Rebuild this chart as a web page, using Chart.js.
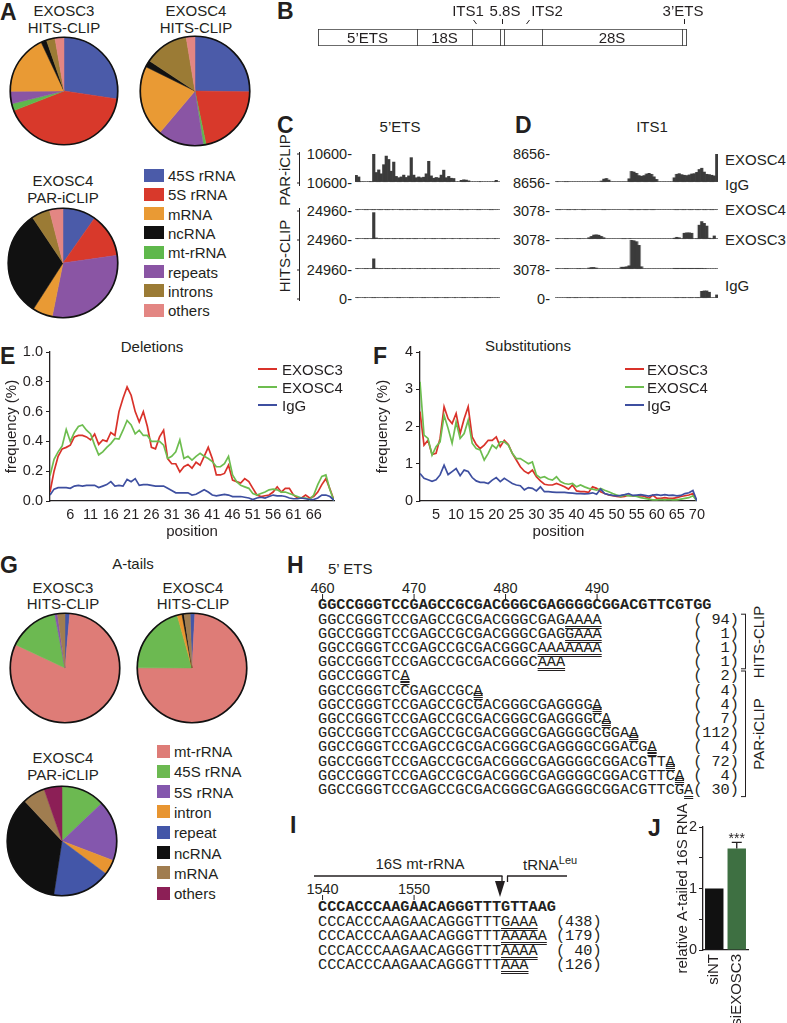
<!DOCTYPE html>
<html><head><meta charset="utf-8">
<script src="https://cdn.jsdelivr.net/npm/chart.js"></script>
<style>
html,body{margin:0;padding:0;background:#fff}
body{position:relative;width:787px;height:1023px;overflow:hidden;font-family:"Liberation Sans",Arial,Helvetica,sans-serif;color:#231f20}
.t{position:absolute;white-space:nowrap;line-height:1}
canvas{position:absolute}
.sq{position:absolute}
.mono{position:absolute;white-space:pre;font-family:"Liberation Mono","Courier New",monospace;font-size:15.25px;line-height:15.25px}
.u{text-decoration:underline double;text-decoration-thickness:1px;text-underline-offset:2px}
.o{text-decoration:overline double;text-decoration-thickness:1px}
</style></head><body>
<script>
// ---------------- DATA ----------------
// Panel A: read class shares (%)
const aCategories=['45S rRNA','5S rRNA','mRNA','ncRNA','mt-rRNA','repeats','introns','others'];
const aColors=['#4b5ba9','#d8392b','#e99a34','#111111','#5fb84c','#8a55a4','#9b7b35','#e38683'];
const aExosc3Hits=[27.4,41.7,18.1,1.7,2.1,3.75,2.6,2.7];
const aExosc4Hits=[25.2,21.5,21.1,2.0,0.8,13.6,13.1,2.6];
const aExosc4Par=[9.75,13.0,5.9,31.5,0,30.4,5.4,4.0];
const aSliceOrder=[0,1,4,5,2,3,6,7];

// Panel B: pre-rRNA segments (relative lengths)
const bSegments=['5\u2019ETS','18S','ITS1','5.8S','ITS2','28S','3\u2019ETS'];
const bLengths=[99,55,28,4,38,140,5];

// Panel C (5'ETS) coverage tracks, binned
const cTrackNames=['EXOSC4','IgG','EXOSC4','EXOSC3','IgG'];
const cTrackMax=[10600,10600,24960,24960,24960];
const cExosc4Par=[2400,1800,0,0,null,0,0,10600,3500,4500,3000,6500,9800,8500,4000,7500,2000,1500,1800,2500,1600,2200,9200,2500,1500,1800,1500,1700,3000,7800,2200,1300,1600,1400,2500,4400,1500,2000,1300,1200,null,null,500,700,600,300,null,null,null,0,0,null,null,null,null,0,500,null];
const cIgGPar=[0,0,null,0,0,0,0,0,0,0,0,0,0,0,0,0,null,0,0,0,0,0,0,0,0,0,null,0,0,0,0,0,0,0,0,0,0,0,0,null,null,0,0,0,0,0,null,null,0,0,0,null,null,0,0,0,0,null];
const cExosc4Hits=[0,0,null,0,0,0,0,23500,600,0,0,0,0,0,0,0,0,0,0,0,0,0,0,0,0,0,null,0,0,null,0,0,0,null,0,0,0,null,0,0,null,0,0,null,0,0,null,null,0,0,null,null,0,0,null,0,0,null];
const cExosc3Hits=[0,0,null,0,0,0,0,8500,300,0,0,0,0,0,0,0,0,null,0,0,0,0,0,null,0,0,0,0,0,null,0,0,0,0,null,0,0,0,0,0,null,null,0,0,0,null,null,null,0,0,null,null,null,0,0,null,0,null];
const cIgGHits=[0,0,null,0,0,null,0,0,0,0,null,0,0,0,0,null,0,0,0,0,null,0,0,0,0,null,0,0,0,0,null,0,0,0,null,0,0,0,null,0,0,null,0,0,0,null,null,0,0,0,null,null,0,0,0,null,0,null];
const cTicks=['10600-','10600-','24960-','24960-','24960-','0-'];

// Panel D (ITS1) coverage tracks, binned
const dTrackMax=[8656,8656,3078,3078,3078];
const dExosc4Par=[0,0,null,0,0,0,null,null,null,null,null,null,null,null,null,null,null,null,200,800,1000,500,null,null,null,null,null,null,null,900,3200,3000,2600,1900,1700,1900,2400,2600,2300,1500,700,null,null,null,null,null,null,1200,2300,2500,2200,2000,1900,2100,2400,2500,2900,3800,4200,3000,2300,2200,2000,1800,8656];
const dIgGPar=[0,0,0,null,0,0,0,0,0,null,0,0,0,0,null,null,null,null,0,0,0,0,null,null,null,null,null,null,null,0,0,0,0,0,0,0,0,0,0,0,0,null,null,null,null,null,null,0,0,0,0,0,0,0,0,0,0,0,0,0,0,0,0,0,0];
const dExosc4Hits=[0,0,null,0,0,0,0,null,0,0,0,0,null,100,250,400,430,380,250,100,null,null,null,null,null,null,0,0,0,0,0,null,null,null,null,null,null,null,null,null,null,null,null,null,null,null,null,50,150,100,0,600,650,650,600,0,0,1500,1900,1700,1400,50,0,300,null];
const dExosc3Hits=[0,0,null,0,0,0,0,null,0,0,0,0,null,60,120,120,60,null,null,null,null,null,null,null,null,null,150,150,200,300,3078,3000,2900,2500,200,null,null,null,null,null,null,null,null,null,null,null,null,30,30,30,30,30,30,30,30,30,30,30,30,0,0,null,null,0,null];
const dIgGHits=[null,null,null,null,0,0,0,0,0,0,0,null,null,0,0,0,0,0,null,null,null,null,null,null,null,null,0,0,0,0,0,0,0,0,0,null,null,null,null,null,null,null,null,null,null,null,null,0,0,0,0,0,0,0,0,0,0,0,700,750,750,600,null,null,300];
const dTicks=['8656-','8656-','3078-','3078-','3078-','0-'];

// Panel E: deletion frequency (%) by read position
const delTicks=[6,11,16,21,26,31,36,41,46,51,56,61,66];
const delExosc3=[0.06,0.20,0.30,0.35,0.36,0.375,0.43,0.44,0.44,0.43,0.41,0.45,0.38,0.41,0.40,0.46,0.44,0.60,0.69,0.765,0.71,0.60,0.53,0.60,0.50,0.36,0.35,0.43,0.475,0.285,0.25,0.25,0.195,0.23,0.245,0.22,0.26,0.24,0.30,0.36,0.285,0.175,0.175,0.185,0.24,0.14,0.13,0.12,0.15,0.13,0.085,0.04,0.03,0.035,0.04,0.06,0.095,0.06,0.085,0.085,0.04,0.02,0.02,0.04,0.02,0.03,0.06,0.11,0.15,0.08,0.005];
const delExosc4=[0.17,0.28,0.33,0.37,0.48,0.40,0.46,0.50,0.51,0.475,0.45,0.375,0.31,0.33,0.36,0.385,0.42,0.415,0.475,0.54,0.51,0.45,0.475,0.44,0.44,0.40,0.40,0.40,0.375,0.285,0.30,0.33,0.41,0.285,0.30,0.275,0.30,0.32,0.30,0.285,0.265,0.23,0.23,0.25,0.30,0.175,0.13,0.105,0.095,0.085,0.05,0.04,0.05,0.06,0.075,0.08,0.075,0.06,0.06,0.05,0.04,0.03,0.02,0.02,0.01,0.04,0.11,0.165,0.175,0.075,0];
const delIgG=[0.04,0.08,0.09,0.09,0.09,0.085,0.10,0.105,0.10,0.105,0.105,0.105,0.09,0.10,0.11,0.13,0.10,0.105,0.10,0.145,0.13,0.15,0.105,0.11,0.11,0.105,0.10,0.10,0.10,0.085,0.07,0.055,0.055,0.055,0.055,0.04,0.045,0.06,0.075,0.06,0.04,0.035,0.04,0.045,0.04,0.03,0.03,0.03,0.025,0.02,0.01,0.02,0.025,0.02,0.03,0.04,0.035,0.035,0.03,0.02,0.015,0.015,0.02,0.015,0.01,0.01,0.02,0.04,0.04,0.03,0.005];

// Panel F: substitution frequency (%) by read position
const subTicks=[5,10,15,20,25,30,35,40,45,50,55,60,65,70];
const subExosc3=[2.4,1.5,1.63,1.25,1.28,1.68,2.53,2.21,2.08,2.35,1.81,2.21,2.53,1.72,1.52,1.41,1.5,1.63,1.63,1.72,1.46,1.63,1.52,1.28,1.1,0.92,0.8,0.74,0.83,0.65,0.54,0.45,0.43,0.43,0.47,0.43,0.38,0.32,0.43,0.27,0.25,0.25,0.23,0.38,0.34,0.25,0.2,0.16,0.14,0.12,0.11,0.12,0.16,0.14,0.14,0.14,0.12,0.07,0.16,0.07,0.07,0.09,0.07,0.07,0.09,0.12,0.14,0.16,0.2,0];
const subExosc4=[3.2,1.77,1.68,1.23,1.46,1.59,2.3,1.95,1.55,2.12,1.68,1.81,2.17,1.55,1.41,1.37,1.1,1.28,1.5,1.41,1.59,1.59,1.5,1.28,1.14,1.14,1.07,1.0,1.05,0.7,0.62,0.65,0.59,0.56,0.65,0.52,0.47,0.45,0.47,0.38,0.43,0.38,0.34,0.32,0.29,0.34,0.29,0.25,0.2,0.16,0.12,0.16,0.14,0.14,0.12,0.09,0.07,0.05,0.03,0.03,0.04,0.03,0.04,0.03,0.03,0.05,0.07,0.09,0.14,0];
const subIgG=[0.74,0.61,0.57,0.53,0.57,0.7,0.96,0.71,0.79,0.87,0.68,0.83,0.79,0.63,0.54,0.5,0.5,0.47,0.56,0.63,0.52,0.61,0.54,0.47,0.43,0.41,0.3,0.36,0.34,0.27,0.38,0.25,0.25,0.24,0.23,0.23,0.23,0.22,0.21,0.2,0.2,0.19,0.2,0.22,0.18,0.32,0.2,0.17,0.15,0.14,0.15,0.17,0.2,0.15,0.16,0.17,0.15,0.13,0.16,0.17,0.15,0.17,0.15,0.16,0.14,0.15,0.2,0.22,0.28,0];
const seriesNames=['EXOSC3','EXOSC4','IgG'];
const seriesColors=['#d9322a','#6dbd4f','#3e4fa0'];

// Panel G: A-tailed read classes (%)
const gCategories=['mt-rRNA','45S rRNA','5S rRNA','intron','repeat','ncRNA','mRNA','others'];
const gColors=['#de7c77','#6cb951','#8457ad','#e89531','#4356a8','#101010','#a07d50','#8c1f56'];
const gExosc3Hits=[80.6,15,0.8,0,1.4,0,2.2,0];
const gExosc4Hits=[74.2,20.6,0,1.4,1.4,0.6,1.8,0];
const gExosc4Par=[0,12.9,17.9,4.4,17.2,35.6,6.7,5.3];
const gOrderHits=[4,0,1,2,3,5,6,7];
const gOrderPar=[0,1,2,3,4,5,6,7];

// Panel H: 5'ETS reads (lowercase = non-templated tail, ^ = mismatch mark)
const hStart=460;
const hRef='GGCCGGGTCCGAGCCGCGACGGGCGAGGGGCGGACGTTCGTGG';
const hReads=['GGCCGGGTCCGAGCCGCGACGGGCGAGaaaa','GGCCGGGTCCGAGCCGCGACGGGCGAGgaaa','GGCCGGGTCCGAGCCGCGACGGGCaaaaaaa','GGCCGGGTCCGAGCCGCGACGGGCaaa',
 'GGCCGGGTCa','GGCCGGGTC^CGAGCCGCa','GGCCGGGTCCGAGCCGC^GACGGGCGAGGGGa','GGCCGGGTCCGAGCCGCGACGGGCGAGGGG^Ca','GGCCGGGTCCGAGCCGCGACGGGCGAGGGGC^GGAa',
 'GGCCGGGTCCGAGCCGCGACGGGCGAGGGGCGGA^CGa','GGCCGGGTCCGAGCCGCGACGGGCGAGGGGCGGACG^TTa','GGCCGGGTCCGAGCCGCGACGGGCGAGGGGCGGACGTT^Ca','GGCCGGGTCCGAGCCGCGACGGGCGAGGGGCGGACGTTC^Ga'];
const hCounts=[94,1,1,1,2,4,4,7,112,4,72,4,30];
const hGroups=[['HITS-CLIP',0,3],['PAR-iCLIP',4,12]];

// Panel I: 16S mt-rRNA 3' end reads
const iStart=1540;
const iRef='CCCACCCAAGAACAGGGTTTGTTAAG';
const iReads=['CCCACCCAAGAACAGGGTTTgaaa','CCCACCCAAGAACAGGGTTTaaaaa','CCCACCCAAGAACAGGGTTTaaaa','CCCACCCAAGAACAGGGTTTaaa'];
const iCounts=[438,179,40,126];

// Panel J
const jCats=['siNT','siEXOSC3'];
const jVals=[1.0,1.65];
const jErr=[0,0.1];
const jSig=['','***'];
const jColors=['#111111','#3e7042'];

// ---------------- HELPERS ----------------
const INK='#231f20';
Chart.defaults.font.family='"Liberation Sans", Arial, sans-serif';
Chart.defaults.color=INK;
Chart.defaults.animation=false;
Chart.defaults.responsive=false;
Chart.defaults.devicePixelRatio=1;
Chart.defaults.plugins.legend.display=false;
Chart.defaults.plugins.tooltip.enabled=false;
const body=document.body;
function mk(x,y,w,h){const c=document.createElement('canvas');c.width=w;c.height=h;c.style.left=x+'px';c.style.top=y+'px';c.style.width=w+'px';c.style.height=h+'px';body.appendChild(c);return c;}
function T(s,x,y,o){o=o||{};const d=document.createElement('div');d.className='t';d.innerHTML=s;d.style.left=x+'px';d.style.top=y+'px';d.style.fontSize=(o.fs||15)+'px';if(o.b)d.style.fontWeight='bold';
 const ax=o.a==='l'?'0%':(o.a==='r'?'-100%':'-50%');d.style.transform=o.rot?'translate(-50%,-50%) rotate(-90deg)':`translate(${ax},-50%)`;body.appendChild(d);return d;}
function sq(x,y,w,h,col){const d=document.createElement('div');d.className='sq';d.style.cssText=`left:${x}px;top:${y}px;width:${w}px;height:${h}px;background:${col}`;body.appendChild(d);}
const svgNS='http://www.w3.org/2000/svg';
const svg=document.createElementNS(svgNS,'svg');svg.setAttribute('width',787);svg.setAttribute('height',1023);svg.style.cssText='position:absolute;left:0;top:0';body.appendChild(svg);
function L(x1,y1,x2,y2,w,col){const l=document.createElementNS(svgNS,'line');l.setAttribute('x1',x1);l.setAttribute('y1',y1);l.setAttribute('x2',x2);l.setAttribute('y2',y2);l.setAttribute('stroke',col||INK);l.setAttribute('stroke-width',w||1);svg.appendChild(l);}
function P(pts){const p=document.createElementNS(svgNS,'polygon');p.setAttribute('points',pts);p.setAttribute('fill',INK);svg.appendChild(p);}

const outline={id:'outline',afterDatasetsDraw(ch){const a=ch.getDatasetMeta(0).data[0];if(!a)return;const c=ch.ctx;c.save();c.beginPath();c.arc(a.x,a.y,a.outerRadius,0,Math.PI*2);c.lineWidth=1.7;c.strokeStyle='#111';c.stroke();c.restore();}};
function pie(cx,cy,r,vals,colors,order,rot){const s=2*r+6;const cv=mk(cx-s/2,cy-s/2,s,s);
 new Chart(cv,{type:'pie',data:{labels:order.map(i=>i),datasets:[{data:order.map(i=>vals[i]),backgroundColor:order.map(i=>colors[i]),borderColor:order.map(i=>colors[i]),borderWidth:0.5}]},
 options:{rotation:rot||0,layout:{padding:3}},plugins:[outline]});}

// ---------------- PANEL A ----------------
T('A',0,12,{a:'l',b:1,fs:23});
T('EXOSC3',64,10);T('HITS-CLIP',64,27);
T('EXOSC4',196,10);T('HITS-CLIP',196,27);
pie(64,91,54,aExosc3Hits,aColors,aSliceOrder,0);
pie(195,91,55,aExosc4Hits,aColors,aSliceOrder,0);
T('EXOSC4',63,180);T('PAR-iCLIP',63,197);
pie(63,263,55,aExosc4Par,aColors,aSliceOrder,0);
aCategories.forEach((n,i)=>{const y=175+19.3*i;sq(144,y-6.5,20,13,aColors[i]);T(n,168,y,{a:'l'});});

// ---------------- PANEL B ----------------
T('B',277,11,{a:'l',b:1,fs:23});
const bX0=310;
const bTop={2:{x:468,t:[473,20,476,24]},3:{x:505,t:[502,19,502,24]},4:{x:547,t:[529,20,526,24]},6:{x:683,t:[684,19,684,24]}};
const bLabels={id:'bLabels',afterDatasetsDraw(ch){const c=ch.ctx;c.save();c.fillStyle=INK;c.strokeStyle=INK;c.lineWidth=1;c.font='15px "Liberation Sans"';c.textAlign='center';c.textBaseline='middle';
 ch.data.datasets.forEach((d,i)=>{const el=ch.getDatasetMeta(i).data[0];const mid=(el.x+el.base)/2;
  if(bTop[i]){const o=bTop[i];c.fillText(bSegments[i],o.x-bX0,12);c.beginPath();c.moveTo(o.t[0]-bX0+0.5,o.t[1]);c.lineTo(o.t[2]-bX0+0.5,o.t[3]);c.stroke();}
  else c.fillText(bSegments[i],mid,el.y+1);});c.restore();}};
new Chart(mk(bX0,0,440,60),{type:'bar',data:{labels:['pre-rRNA'],datasets:bLengths.map((v,i)=>({data:[v],backgroundColor:'#fff',borderColor:'#3a3a3a',borderWidth:{top:1.2,bottom:1.2,left:1.2,right:i===bLengths.length-1?1.2:0},borderSkipped:false,barPercentage:1,categoryPercentage:1}))},
 options:{indexAxis:'y',layout:{padding:{left:8,right:63,top:29,bottom:14}},scales:{x:{display:false,stacked:true,min:0,max:bLengths.reduce((a,b)=>a+b,0)},y:{display:false,stacked:true}}},plugins:[bLabels]});

// ---------------- PANELS C & D ----------------
const trackTops=[154,183,211,240,270,299];
function track(x,y,w,h,vals,max){const c=mk(x,y,w,h);
 new Chart(c,{type:'bar',data:{labels:vals.map((_,i)=>i),datasets:[
  {type:'line',data:vals.map(v=>v===null?null:0),borderColor:'#8c8c8c',borderWidth:1,borderDash:[5,2],pointRadius:0,spanGaps:false,order:2},
  {type:'bar',data:vals.map(v=>v||0),backgroundColor:'#3b3b3b',barPercentage:1,categoryPercentage:1,borderWidth:0,order:1}]},
  options:{layout:{padding:0},scales:{x:{display:false},y:{display:false,min:-max*0.05,max:max}}}});}
T('C',277,125,{a:'l',b:1,fs:23});T('5\u2019ETS',400,126);
T('D',515,125,{a:'l',b:1,fs:23});T('ITS1',652,126);
const cTracks=[cExosc4Par,cIgGPar,cExosc4Hits,cExosc3Hits,cIgGHits];
const dTracks=[dExosc4Par,dIgGPar,dExosc4Hits,dExosc3Hits,dIgGHits];
for(let i=0;i<5;i++){const y=trackTops[i],h=trackTops[i+1]-trackTops[i];
 track(355,y,145,h,cTracks[i],cTrackMax[i]);track(555,y,162.5,h,dTracks[i],dTrackMax[i]);}
trackTops.forEach((y,i)=>{T(cTicks[i],352,y,{a:'r',fs:14.5});T(dTicks[i],550,y,{a:'r',fs:14.5});L(297,y,300,y,1);});
const trackLabelY=[159,184,209,239,285];
cTrackNames.forEach((n,i)=>T(n,725,trackLabelY[i],{a:'l'}));
L(299.5,152,299.5,186,1);L(299.5,208,299.5,301,1);
T('PAR-iCLIP',284,170,{rot:1});T('HITS-CLIP',284,256,{rot:1});

// ---------------- PANELS E & F ----------------
function lineChart(x,y,w,h,pad,xmin,xmax,xticks,ymax,ystep,ydec,series,ytitlePad){
 const ds=series.map((arr,k)=>({data:arr.map((v,i)=>({x:i+1,y:v})),borderColor:seriesColors[k],borderWidth:1.7,pointRadius:0,tension:0}));
 ds.reverse();
 new Chart(mk(x,y,w,h),{type:'line',data:{datasets:ds},options:{layout:{padding:{top:pad.top,right:pad.right,left:0,bottom:0}},
  scales:{x:{type:'linear',min:xmin,max:xmax,afterBuildTicks:s=>{s.ticks=xticks.map(v=>({value:v}));},
     ticks:{font:{size:14.5},color:INK,padding:5,maxRotation:0,autoSkip:false},grid:{display:false,drawTicks:false},border:{display:true,color:INK,width:1.3},
     title:{display:true,text:'position',font:{size:15},color:INK,padding:{top:0,bottom:4}},afterFit:s=>{s.height=pad.xh;}},
   y:{min:0,max:ymax,ticks:{stepSize:ystep,font:{size:14.5},color:INK,padding:3,callback:v=>Number(v).toFixed(ydec)},
     grid:{display:true,drawOnChartArea:false,drawTicks:true,tickLength:4,color:INK},border:{display:true,color:INK,width:1.3},
     title:{display:true,text:'frequency (%)',font:{size:15},color:INK,padding:{top:ytitlePad,bottom:0}},afterFit:s=>{s.width=50;}}}}});}
T('E',0,356,{a:'l',b:1,fs:23});T('Deletions',152,346);
lineChart(0,330,345,215,{top:22,right:11,xh:44},1,71,delTicks,1,0.2,1,[delExosc3,delExosc4,delIgG],3);
T('F',373,356,{a:'l',b:1,fs:23});T('Substitutions',528,345);
lineChart(370,330,340,215,{top:22,right:12,xh:44},1,70,subTicks,4,1,0,[subExosc3,subExosc4,subIgG],4);
[[258,282],[625,647]].forEach(([lx,tx])=>{seriesNames.forEach((n,k)=>{const y=369+18*k;sq(lx,y-1,19,2,seriesColors[k]);T(n,tx,y,{a:'l'});});});

// ---------------- PANEL G ----------------
T('G',0,565,{a:'l',b:1,fs:23});T('A-tails',133,563);
T('EXOSC3',63,587);T('HITS-CLIP',63,603);
T('EXOSC4',193,587);T('HITS-CLIP',193,603);
pie(65,668,55,gExosc3Hits,gColors,gOrderHits,0);
pie(192,668,55,gExosc4Hits,gColors,gOrderHits,-2);
T('EXOSC4',63,757);T('PAR-iCLIP',63,774);
pie(62,841,55,gExosc4Par,gColors,gOrderPar,0);
gCategories.forEach((n,i)=>{const y=751+20.3*i;sq(157,y-6.5,13,13,gColors[i]);T(n,174,y,{a:'l'});});

// ---------------- PANEL H ----------------
const CW=9.15,SX=318;
function seqHTML(s){let out='',i=0;while(i<s.length){const ch=s[i];
 if(ch==='^'){out+=`<span class="o">${s[i+1]}</span>`;i+=2;continue;}
 if(ch>='a'&&ch<='z'){let j=i;while(j<s.length&&s[j]>='a'&&s[j]<='z')j++;out+=`<span class="u">${s.slice(i,j).toUpperCase()}</span>`;i=j;continue;}
 out+=ch;i++;}return out;}
function mono(html,x,y,bold){const d=document.createElement('div');d.className='mono';d.innerHTML=html;d.style.left=x+'px';d.style.top=(y-7.6)+'px';if(bold)d.style.fontWeight='bold';body.appendChild(d);}
function cnt(n){return '('+String(n).padStart(3,' ')+')';}
T('H',287,565,{a:'l',b:1,fs:23});T('5\u2019 ETS',328,568,{a:'l'});
for(let k=0;k<4;k++){const x=SX+10*k*CW+CW/2;T(String(hStart+10*k),x,588,{fs:14.5});L(x,594,x,599,1);}
const hY0=606,hDY=14.2;
mono(hRef,SX,hY0,true);
hReads.forEach((r,i)=>{const y=hY0+(i+1)*hDY;mono(seqHTML(r),SX,y);mono(cnt(hCounts[i]),SX+41*CW,y);});
hGroups.forEach(([name,a,b])=>{const y1=hY0+(a+1)*hDY-6,y2=hY0+(b+1)*hDY+6;L(745.5,y1,745.5,y2,1);L(741,y1,746,y1,1);L(741,y2,746,y2,1);T(name,758,(y1+y2)/2,{rot:1});});

// ---------------- PANEL I ----------------
T('I',290,825,{a:'l',b:1,fs:23});
T('16S mt-rRNA',420,863);T('tRNA<sup style="font-size:11px;vertical-align:6px">Leu</sup>',523,863,{a:'l'});
L(314,876,502.5,876,1.3);L(502,876,502,882,1.3);L(507,876,567,876,1.3);L(507.5,876,507.5,882,1.3);
P('495,881 505,881 500,897');
for(let k=0;k<2;k++){const x=SX+10*k*CW+CW/2;T(String(iStart+10*k),x,889,{fs:14.5});L(x,895,x,900,1);}
const iY0=908,iDY=14.5;
mono(iRef,SX,iY0,true);
iReads.forEach((r,i)=>{const y=iY0+(i+1)*iDY;mono(seqHTML(r),SX,y);mono(cnt(iCounts[i]),SX+26*CW,y);});

// ---------------- PANEL J ----------------
T('J',648,828,{a:'l',b:1,fs:23});
const errPlugin={id:'err',afterDatasetsDraw(ch){const m=ch.getDatasetMeta(0),c=ch.ctx,ys=ch.scales.y;c.save();c.strokeStyle=INK;c.fillStyle=INK;c.lineWidth=1.3;
 m.data.forEach((b,i)=>{const e=jErr[i];if(!e)return;const top=ys.getPixelForValue(jVals[i]+e);c.beginPath();c.moveTo(b.x,b.y);c.lineTo(b.x,top);c.moveTo(b.x-5,top);c.lineTo(b.x+5,top);c.stroke();
  if(jSig[i]){c.font='14px "Liberation Sans"';c.textAlign='center';c.textBaseline='alphabetic';c.fillText(jSig[i],b.x,top+1);}});c.restore();}};
new Chart(mk(668,795,119,228),{type:'bar',data:{labels:jCats,datasets:[{data:jVals,backgroundColor:jColors,barPercentage:0.82,categoryPercentage:1}]},
 options:{layout:{padding:{top:32,right:39,left:0,bottom:0}},
  scales:{x:{grid:{display:false,drawTicks:false},border:{display:true,color:INK,width:1.3},ticks:{minRotation:90,maxRotation:90,font:{size:15},color:INK,padding:4},afterFit:s=>{s.height=73;}},
   y:{min:0,max:2,ticks:{stepSize:0.5,font:{size:14.5},color:INK,padding:2,callback:v=>Number.isInteger(v)?String(v):''},grid:{display:true,drawOnChartArea:false,drawTicks:true,tickLength:4,color:INK},border:{display:true,color:INK,width:1.3},
     title:{display:true,text:'relative A-tailed 16S RNA',font:{size:15},color:INK,padding:{top:6,bottom:0}},afterFit:s=>{s.width=35;}}}},plugins:[errPlugin]});
</script>
</body></html>
